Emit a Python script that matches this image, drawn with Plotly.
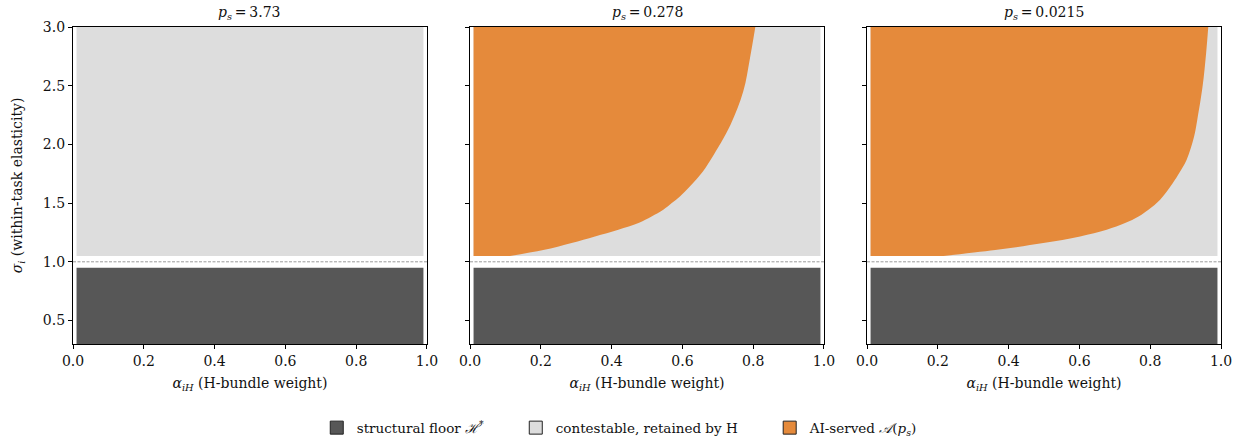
import plotly.graph_objects as go
from plotly.subplots import make_subplots

# ---- data ----
panel_prices = ["3.73", "0.278", "0.0215"]
alpha_min, alpha_max = 0.01, 0.99
floor_sigma_low, floor_sigma_high = 0.3, 0.95
contest_sigma_low, contest_sigma_high = 1.05, 3.0
dash_sigma = 1.0
dash_alpha = [0.0, 1.0]

# AI-served boundary (alpha where AI stops serving, for each sigma)
sigma_boundary_2 = [1.05, 1.10, 1.16, 1.216, 1.273, 1.33, 1.386, 1.443, 1.50, 1.557, 1.642,
                    1.77, 1.884, 2.168, 2.452, 2.737, 3.0]
alpha_boundary_2 = [0.113, 0.207, 0.287, 0.353, 0.419, 0.476, 0.513, 0.546, 0.570, 0.593, 0.621,
                    0.658, 0.683, 0.736, 0.772, 0.791, 0.806]
sigma_boundary_3 = [1.05, 1.10, 1.16, 1.216, 1.273, 1.33, 1.386, 1.443, 1.529, 1.671, 1.756,
                    1.87, 2.068, 2.211, 2.495, 2.779, 3.0]
alpha_boundary_3 = [0.216, 0.362, 0.498, 0.602, 0.677, 0.729, 0.767, 0.795, 0.828, 0.864, 0.882,
                    0.903, 0.924, 0.933, 0.948, 0.958, 0.964]
boundaries = [None, (alpha_boundary_2, sigma_boundary_2), (alpha_boundary_3, sigma_boundary_3)]

x_ticks = [0.0, 0.2, 0.4, 0.6, 0.8, 1.0]
y_ticks = [0.5, 1.0, 1.5, 2.0, 2.5, 3.0]

legend_labels = ["structural floor <i>ℋ</i><sup>*</sup>",
                 "contestable, retained by H",
                 "AI-served <i>𝒜</i>(<i>p<sub>s</sub></i>)"]
legend_pad = "\u2003\u2003"

DARK = "#575757"
LIGHT = "#dddddd"
ORANGE = "#e58a3b"
FONT = "DejaVu Serif"
TXT = "#111111"

fig = make_subplots(rows=1, cols=3, horizontal_spacing=0.0375)

for i in range(3):
    col = i + 1
    # structural floor
    fig.add_trace(go.Scatter(
        x=[alpha_min, alpha_max, alpha_max, alpha_min, alpha_min],
        y=[floor_sigma_low, floor_sigma_low, floor_sigma_high, floor_sigma_high, floor_sigma_low],
        fill="toself", fillcolor=DARK, mode="lines", line=dict(width=0, color=DARK),
        showlegend=False, hoverinfo="skip"), row=1, col=col)
    # contestable
    fig.add_trace(go.Scatter(
        x=[alpha_min, alpha_max, alpha_max, alpha_min, alpha_min],
        y=[contest_sigma_low, contest_sigma_low, contest_sigma_high, contest_sigma_high, contest_sigma_low],
        fill="toself", fillcolor=LIGHT, mode="lines", line=dict(width=0, color=LIGHT),
        showlegend=False, hoverinfo="skip"), row=1, col=col)
    # AI-served: left edge + smooth boundary, filled between
    if boundaries[i] is not None:
        ab, sb = boundaries[i]
        fig.add_trace(go.Scatter(
            x=[alpha_min, alpha_min], y=[contest_sigma_low, contest_sigma_high],
            mode="lines", line=dict(width=0, color=ORANGE),
            showlegend=False, hoverinfo="skip"), row=1, col=col)
        fig.add_trace(go.Scatter(
            x=ab, y=sb, fill="tonextx", fillcolor=ORANGE, mode="lines",
            line=dict(width=0, color=ORANGE, shape="spline", smoothing=1.0),
            showlegend=False, hoverinfo="skip"), row=1, col=col)
    # dashed line
    fig.add_trace(go.Scatter(
        x=dash_alpha, y=[dash_sigma, dash_sigma], mode="lines",
        line=dict(color="#9a9a9a", width=1, dash="3px,1.5px"),
        showlegend=False, hoverinfo="skip"), row=1, col=col)

# legend-only entries
for k, (lab, colr) in enumerate(zip(legend_labels, [DARK, LIGHT, ORANGE])):
    fig.add_trace(go.Scatter(
        x=[None], y=[None], mode="markers",
        marker=dict(symbol="square", size=13, color=colr, line=dict(width=1, color="#222222")),
        name=lab + (legend_pad if k < 2 else ""), showlegend=True), row=1, col=1)

for i in range(3):
    fig.update_xaxes(range=[0, 1], tickvals=x_ticks, ticktext=[f"{v:.1f}" for v in x_ticks],
                     showgrid=False, zeroline=False, showline=True, linecolor="black",
                     linewidth=1.2, mirror=True, ticks="outside", ticklen=4, tickwidth=1,
                     tickcolor="black", tickfont=dict(family=FONT, size=14, color=TXT),
                     automargin=False,
                     title=dict(text="<i>α<sub>iH</sub></i> (H-bundle weight)",
                                font=dict(family=FONT, size=14, color=TXT), standoff=10),
                     row=1, col=i + 1)
    fig.update_yaxes(range=[0.3, 3.0], tickvals=y_ticks,
                     ticktext=[f"{v:.1f}" for v in y_ticks],
                     showticklabels=(i == 0), automargin=False,
                     showgrid=False, zeroline=False, showline=True, linecolor="black",
                     linewidth=1.2, mirror=True, ticks="outside", ticklen=4, tickwidth=1,
                     tickcolor="black", tickfont=dict(family=FONT, size=14, color=TXT),
                     row=1, col=i + 1)
fig.update_yaxes(title=dict(text="<i>σ<sub>i</sub></i> (within-task elasticity)",
                            font=dict(family=FONT, size=14, color=TXT), standoff=16),
                 row=1, col=1)

# panel titles
for i, p in enumerate(panel_prices):
    xref = "x domain" if i == 0 else f"x{i+1} domain"
    yref = "y domain" if i == 0 else f"y{i+1} domain"
    fig.add_annotation(text=f"<i>p<sub>s</sub></i>\u2009=\u2009{p}", xref=xref, yref=yref,
                       x=0.5, y=1.0, yanchor="bottom", yshift=3, showarrow=False,
                       font=dict(family=FONT, size=14, color=TXT))

fig.update_layout(
    width=1247, height=442,
    margin=dict(l=73, r=26, t=27, b=98, autoexpand=False),
    plot_bgcolor="white", paper_bgcolor="white",
    legend=dict(orientation="h", xref="container", yref="container",
                x=0.497, xanchor="center", y=0.032, yanchor="middle",
                traceorder="normal",
                font=dict(family=FONT, size=13.5, color=TXT), itemwidth=30,
                bgcolor="rgba(0,0,0,0)"),
)

# remove the default 8px page margin so the figure sits at the window's corner
fig.write_html("out.html", config={"displayModeBar": False},
               post_script="document.body.style.margin='0';document.body.style.overflow='hidden';")
